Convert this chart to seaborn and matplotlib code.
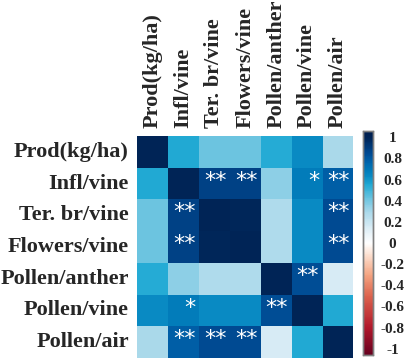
import numpy as np
import pandas as pd
import matplotlib
matplotlib.use("Agg")
import matplotlib.pyplot as plt
from matplotlib.colors import LinearSegmentedColormap
import seaborn as sns

variables = ["Prod(kg/ha)", "Infl/vine", "Ter. br/vine", "Flowers/vine",
             "Pollen/anther", "Pollen/vine", "Pollen/air"]

# Pearson correlation coefficients between the yield and flowering traits
r_values = [
    [1.00, 0.55, 0.42, 0.42, 0.54, 0.63, 0.29],
    [0.55, 1.00, 0.88, 0.88, 0.35, 0.68, 0.78],
    [0.42, 0.88, 1.00, 0.99, 0.28, 0.63, 0.85],
    [0.42, 0.88, 0.99, 1.00, 0.28, 0.63, 0.85],
    [0.54, 0.35, 0.28, 0.28, 1.00, 0.84, 0.15],
    [0.63, 0.68, 0.63, 0.63, 0.84, 1.00, 0.55],
    [0.29, 0.78, 0.85, 0.85, 0.15, 0.55, 1.00],
]

# significance marks: * p < 0.05, ** p < 0.01
significance = [
    ["", "", "", "", "", "", ""],
    ["", "", "**", "**", "", "*", "**"],
    ["", "**", "", "", "", "", "**"],
    ["", "**", "", "", "", "", "**"],
    ["", "", "", "", "", "**", ""],
    ["", "*", "", "", "**", "", ""],
    ["", "**", "**", "**", "", "", ""],
]

cbar_ticks = [1, 0.8, 0.6, 0.4, 0.2, 0, -0.2, -0.4, -0.6, -0.8, -1]
cbar_ticklabels = ["1", "0.8", "0.6", "0.4", "0.2", "0",
                   "-0.2", "-0.4", "-0.6", "-0.8", "-1"]

# diverging red-white-blue palette
VMIN, VMAX = -1.06, 1.06
anchor_vals = [-1.06, -0.8, -0.5, -0.3, -0.1, 0.0, 0.12, 0.3, 0.42,
               0.55, 0.63, 0.70, 0.78, 0.86, 1.0, 1.06]
anchor_cols = ["#67001f", "#b2182b", "#dd644e", "#f4a582", "#fde4d6",
               "#ffffff", "#e2f0f7", "#a8d8ea", "#6cc4e0", "#22aad4",
               "#0a8cc4", "#0078b8", "#0060a8", "#004890", "#002456",
               "#001f4f"]
cmap = LinearSegmentedColormap.from_list(
    "rwb", [((v - VMIN) / (VMAX - VMIN), c) for v, c in zip(anchor_vals, anchor_cols)])

sns.set_theme(style="white")
plt.rcParams["font.family"] = ["Liberation Serif", "DejaVu Serif"]
plt.rcParams["font.weight"] = "bold"
plt.rcParams["axes.unicode_minus"] = False

df = pd.DataFrame(r_values, index=variables, columns=variables)

fig = plt.figure(figsize=(4.06, 3.58), dpi=100)
ax = fig.add_axes([137 / 406, 0.0, 216.5 / 406, 222 / 358])
cax = fig.add_axes([363 / 406, 3 / 358, 10 / 406, 224 / 358])

sns.heatmap(df, ax=ax, cbar_ax=cax, cmap=cmap, vmin=VMIN, vmax=VMAX,
            square=False, linewidths=0)

ax.xaxis.tick_top()
ax.set_xticklabels(variables, rotation=90, fontsize=16, fontweight="bold",
                   va="bottom", ha="center")
ax.set_yticklabels(variables, rotation=0, fontsize=16, fontweight="bold")
ax.tick_params(axis="both", length=0)
ax.tick_params(axis="x", pad=5.8)
ax.tick_params(axis="y", pad=5.8)
ax.set_xlabel("")
ax.set_ylabel("")

for i, row in enumerate(significance):
    for j, mark in enumerate(row):
        if mark:
            ax.text(j + 0.89, i + 0.6, mark, color="white", fontsize=16,
                    fontweight="normal", family="DejaVu Sans",
                    ha="right", va="baseline")

cax.set_yticks(cbar_ticks)
cax.set_yticklabels(cbar_ticklabels, fontsize=11, fontweight="bold")
cax.tick_params(axis="y", length=0, pad=14)
for lab in cax.get_yticklabels():
    lab.set_horizontalalignment("center")
for sp in cax.spines.values():
    sp.set_visible(True)
    sp.set_edgecolor("#808080")
    sp.set_linewidth(1.0)

fig.savefig("out.png", dpi=100, facecolor="white")
